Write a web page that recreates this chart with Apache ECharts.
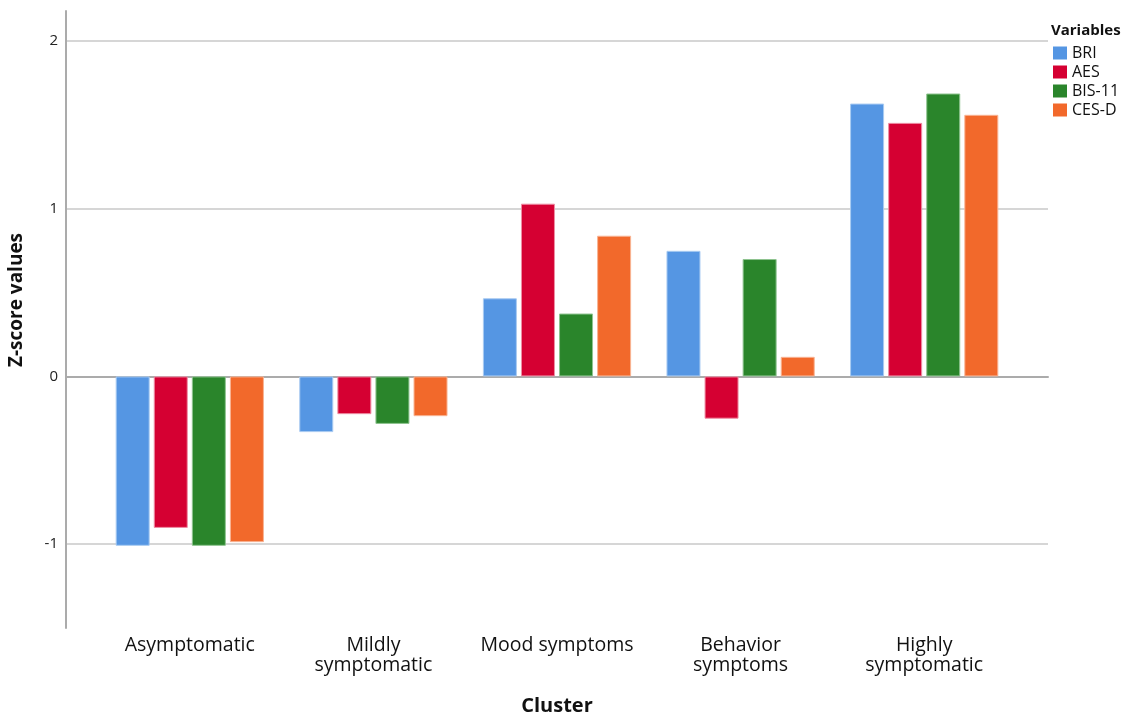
<!DOCTYPE html>
<html>
<head>
<meta charset="utf-8">
<script src="https://cdn.jsdelivr.net/npm/echarts@6/dist/echarts.min.js"></script>
<style>html,body{margin:0;padding:0;background:#fff;}#c{width:1133px;height:713px;}</style>
</head>
<body>
<div id="c"></div>
<script>
const categories = ['Asymptomatic', 'Mildly\nsymptomatic', 'Mood symptoms', 'Behavior\nsymptoms', 'Highly\nsymptomatic'];
const seriesNames = ['BRI', 'AES', 'BIS-11', 'CES-D'];
const BRI  = [-1.01, -0.332, 0.466, 0.749, 1.627];
const AES  = [-0.903, -0.225, 1.03, -0.252, 1.512];
const BIS11 = [-1.01, -0.283, 0.375, 0.70, 1.687];
const CESD = [-0.988, -0.237, 0.839, 0.117, 1.56];
const yTicks = [-1, 0, 1, 2];

const colors = ['#5596E3', '#D50032', '#2A852B', '#F2692B'];
const borders = ['#A9CBF2', '#EE8FA5', '#8FC490', '#F9B494'];
const values = [BRI, AES, BIS11, CESD];
const FONT = 'Open Sans';
const yMin = -1.5, yMax = 2.179;

const chart = echarts.init(document.getElementById('c'), null, {renderer: 'canvas'});
chart.setOption({
  animation: false,
  textStyle: {fontFamily: FONT},
  grid: [
    {left: 66, right: 85, top: 11, bottom: 85, outerBoundsMode: 'none', containLabel: false},
    {left: 66, right: 85, top: 41, bottom: 169, outerBoundsMode: 'none', containLabel: false},
    {left: 98, right: 117, top: 11, bottom: 85, outerBoundsMode: 'none', containLabel: false}
  ],
  xAxis: [
    {gridIndex: 0, type: 'category', data: categories, axisLine: {show: true, lineStyle: {color: '#ababab', width: 2}}, axisTick: {show: false}, axisLabel: {show: false}},
    {gridIndex: 1, type: 'category', data: categories, show: false},
    {gridIndex: 2, type: 'category', data: categories, axisLine: {show: false}, axisTick: {show: false},
     axisLabel: {interval: 0, hideOverlap: false, fontFamily: FONT, fontSize: 19.5, color: '#111', margin: 7, lineHeight: 20},
     name: 'Cluster', nameLocation: 'middle', nameGap: 68,
     nameTextStyle: {fontFamily: FONT, fontSize: 20, fontWeight: 'bold', color: '#111'}}
  ],
  yAxis: [
    {gridIndex: 0, type: 'value', min: yMin, max: yMax, axisLine: {show: true, lineStyle: {color: '#ababab', width: 2}}, axisTick: {show: false}, axisLabel: {show: false}, splitLine: {show: false}},
    {gridIndex: 1, type: 'value', min: yTicks[0], max: yTicks[yTicks.length - 1], interval: 1,
     axisLine: {show: false}, axisTick: {show: false},
     axisLabel: {fontFamily: FONT, fontSize: 15, color: '#222', margin: 8},
     splitLine: {show: true, lineStyle: {color: '#c8c8c8', width: 1.5}}},
    {gridIndex: 2, type: 'value', min: yMin, max: yMax, show: false, splitLine: {show: false}}
  ],
  legend: {
    orient: 'vertical', left: 1053, top: 45, padding: 0, itemWidth: 14, itemHeight: 13, itemGap: 3,
    icon: 'rect', data: seriesNames, itemStyle: {borderWidth: 0},
    textStyle: {fontFamily: FONT, fontSize: 16, color: '#111'}
  },
  graphic: [
    {type: 'text', left: 1051, top: 23, style: {text: 'Variables', font: 'bold 15px "Open Sans"', fill: '#111'}},
    {type: 'text', x: 17, y: 300, rotation: Math.PI / 2,
     style: {text: 'Z-score values', font: 'bold 19px "Open Sans"', fill: '#111', align: 'center', verticalAlign: 'middle'}}
  ],
  series: seriesNames.map((n, i) => ({
    name: n, type: 'bar', xAxisIndex: 2, yAxisIndex: 2,
    data: values[i], barWidth: 34, barGap: '12%',
    itemStyle: {color: colors[i], borderColor: borders[i], borderWidth: 1}
  }))
});
</script>
</body>
</html>
